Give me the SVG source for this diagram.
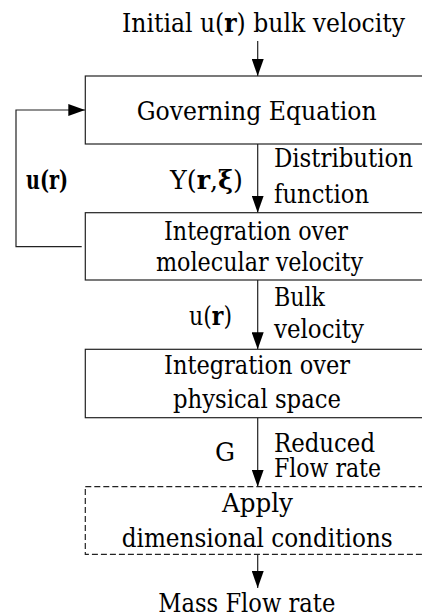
<svg xmlns="http://www.w3.org/2000/svg" width="422" height="616" viewBox="0 0 422 616">
<style>
text{font-family:'DejaVu Serif Condensed','DejaVu Serif',serif;font-stretch:condensed;font-size:26px;fill:#000}
.c{text-anchor:middle}
.r{text-anchor:end}
.b{font-weight:bold}
.box{fill:#fff;stroke:#222;stroke-width:1.2}
.dash{stroke-dasharray:6 3}
.ln{fill:none;stroke:#222;stroke-width:1.2}
</style>
<defs>
<marker id="ah" markerWidth="17" markerHeight="12" refX="17" refY="6" viewBox="0 0 17 12" orient="auto" markerUnits="userSpaceOnUse">
<path d="M0,0 L17,6 L0,12 Z" fill="#000"/>
</marker>
</defs>
<g id="connectors">
<line class="ln" x1="257.7" y1="41" x2="257.7" y2="76" marker-end="url(#ah)"/>
<line class="ln" x1="257.7" y1="144" x2="257.7" y2="212.7" marker-end="url(#ah)"/>
<line class="ln" x1="257.7" y1="280" x2="257.7" y2="349.3" marker-end="url(#ah)"/>
<line class="ln" x1="257.7" y1="417.7" x2="257.7" y2="486.7" marker-end="url(#ah)"/>
<line class="ln" x1="257.7" y1="554.3" x2="257.7" y2="588" marker-end="url(#ah)"/>
<polyline class="ln" points="81.7,246.7 16,246.7 16,110 85.3,110" marker-end="url(#ah)"/>
<text x="274" y="166.7" textLength="139" lengthAdjust="spacingAndGlyphs">Distribution</text>
<text x="274" y="203" textLength="95" lengthAdjust="spacingAndGlyphs">function</text>
<text x="170" y="189" textLength="73" lengthAdjust="spacingAndGlyphs">Y(<tspan class="b">r</tspan>,<tspan class="b">ξ</tspan>)</text>
<text x="26" y="189" class="b" textLength="42" lengthAdjust="spacingAndGlyphs">u(r)</text>
<text x="274" y="306" textLength="51" lengthAdjust="spacingAndGlyphs">Bulk</text>
<text x="274" y="338" textLength="90" lengthAdjust="spacingAndGlyphs">velocity</text>
<text x="189" y="325" textLength="43" lengthAdjust="spacingAndGlyphs">u(<tspan class="b">r</tspan>)</text>
<text x="274" y="451.7" textLength="101" lengthAdjust="spacingAndGlyphs">Reduced</text>
<text x="274" y="476.7" textLength="107" lengthAdjust="spacingAndGlyphs">Flow rate</text>
<text x="215" y="461" textLength="20" lengthAdjust="spacingAndGlyphs">G</text>
</g>
<g id="start">
<text x="122" y="32" textLength="283" lengthAdjust="spacingAndGlyphs">Initial u(<tspan class="b">r</tspan>) bulk velocity</text>
</g>
<g id="governing">
<rect class="box" x="85.3" y="76" width="346" height="68"/>
<text x="136.7" y="120" textLength="240" lengthAdjust="spacingAndGlyphs">Governing Equation</text>
</g>
<g id="molecular">
<rect class="box" x="85.3" y="212.7" width="346" height="67.3"/>
<text x="164" y="240" textLength="184" lengthAdjust="spacingAndGlyphs">Integration over</text>
<text x="156" y="271" textLength="207" lengthAdjust="spacingAndGlyphs">molecular velocity</text>
</g>
<g id="physical">
<rect class="box" x="85.3" y="349.3" width="346" height="68.4"/>
<text x="164" y="374" textLength="186" lengthAdjust="spacingAndGlyphs">Integration over</text>
<text x="173" y="408" textLength="168" lengthAdjust="spacingAndGlyphs">physical space</text>
</g>
<g id="apply">
<rect class="box dash" x="85.3" y="486.7" width="346" height="67.6"/>
<text x="222" y="511.7" textLength="71" lengthAdjust="spacingAndGlyphs">Apply</text>
<text x="121.7" y="546.7" textLength="271" lengthAdjust="spacingAndGlyphs">dimensional conditions</text>
</g>
<g id="end">
<text x="158.3" y="612" textLength="177" lengthAdjust="spacingAndGlyphs">Mass Flow rate</text>
</g>
</svg>
